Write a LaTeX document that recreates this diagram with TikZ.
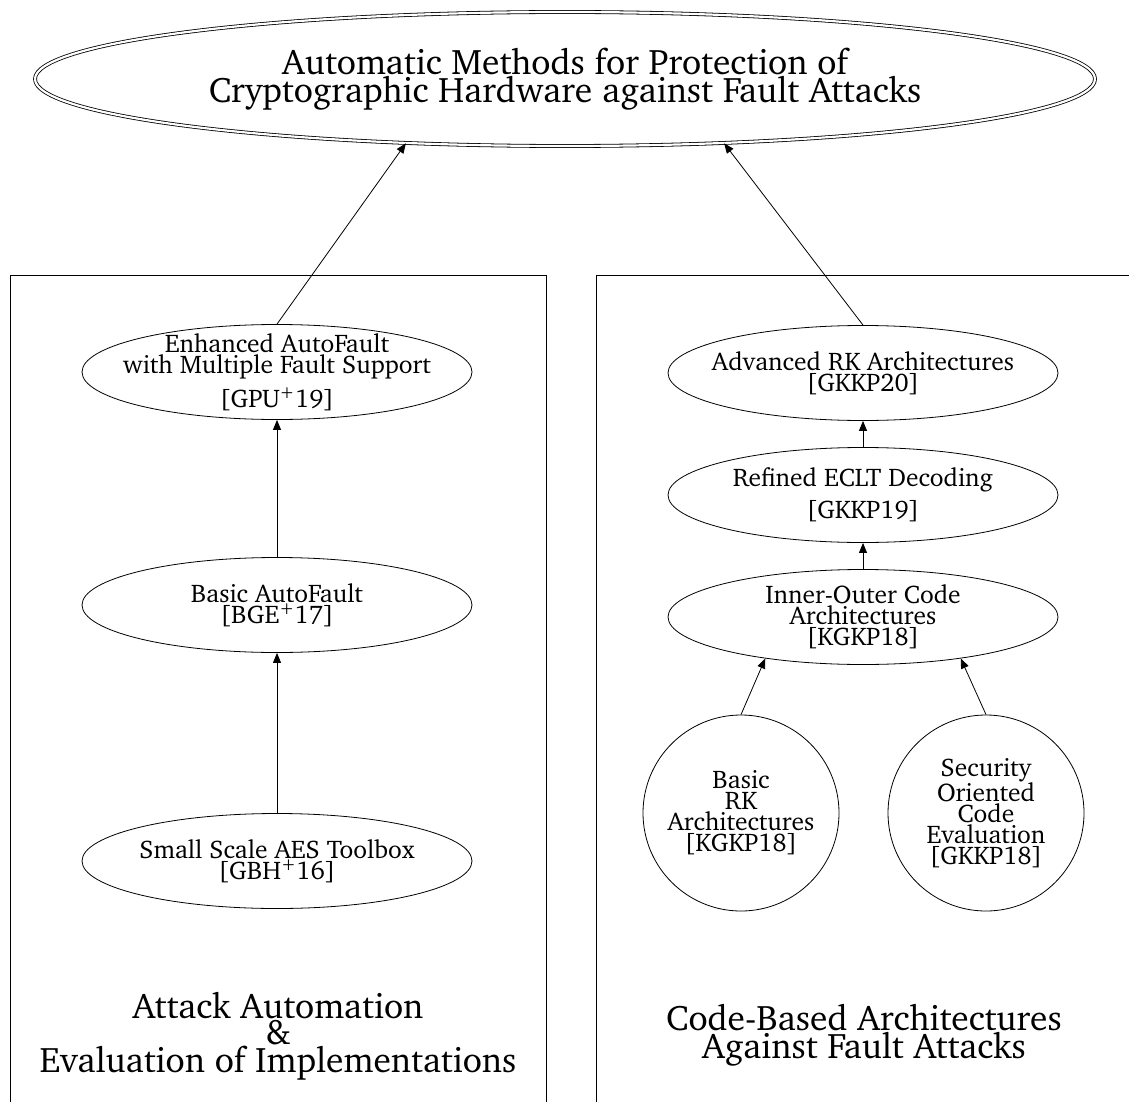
\documentclass[tikz,border=0pt]{standalone}
\usepackage[T1]{fontenc}
\usepackage{charter}
\usetikzlibrary{arrows.meta,shapes.geometric}
% bracketed citation key, safe right after a line break
\newcommand\refbr[1]{{[}#1{]}}
\tikzset{
  base line/.style={line width=0.8pt},
  topic/.style={ellipse, draw, base line, double, double distance=2.2pt,
    minimum width=1060pt, minimum height=134pt, inner sep=0pt, align=center,
    font=\fontsize{35.5}{28}\selectfont},
  % negative inner sep keeps every work ellipse at the common fixed size
  work/.style={ellipse, draw, base line, minimum width=390pt, minimum height=95pt,
    inner xsep=-16pt, inner ysep=-6pt, align=center, font=\fontsize{25.5}{21}\selectfont},
  workcircle/.style={circle, draw, base line, minimum size=196pt, inner sep=0pt,
    align=center, font=\fontsize{25.5}{21}\selectfont},
  cluster/.style={draw, base line},
  clusterlabel/.style={align=center, inner sep=0pt, font=\fontsize{35.5}{26.5}\selectfont},
  link/.style={base line, -{Triangle[length=10pt,width=8pt]}}
}
\begin{document}
\begin{tikzpicture}[x=1pt, y=-1pt]
  \useasboundingbox (0,0) rectangle (1129,1102);
  \clip (0,0) rectangle (1129,1102);

  % the two research areas
  \draw[cluster] (10,275) rectangle (546,1130);
  \draw[cluster] (596,275) rectangle (1150,1130);

  % overall topic
  \node[topic] (top) at (565,79)
    {Automatic Methods for Protection of\\Cryptographic Hardware against Fault Attacks};

  % attack automation chain
  \node[work] (enh) at (277,372)
    {Enhanced AutoFault\\with Multiple Fault Support\\[8pt]\refbr{GPU\textsuperscript{+}19}};
  \node[work] (basic) at (277,605) {Basic AutoFault\\\refbr{BGE\textsuperscript{+}17}};
  \node[work] (small) at (277,861) {Small Scale AES Toolbox\\\refbr{GBH\textsuperscript{+}16}};

  % code-based architecture chain
  \node[work] (adv) at (863,373) {Advanced RK Architectures\\\refbr{GKKP20}};
  \node[work] (ref) at (863,495) {Refined ECLT Decoding\\[8pt]\refbr{GKKP19}};
  \node[work] (inner) at (863,617) {Inner-Outer Code\\Architectures\\\refbr{KGKP18}};
  \node[workcircle] (brk) at (741,813) {Basic\\RK\\Architectures\\\refbr{KGKP18}};
  \node[workcircle] (sec) at (986,813) {Security\\Oriented\\Code\\Evaluation\\\refbr{GKKP18}};

  % area captions
  \node[clusterlabel] (lablA) at (278,1036)
    {Attack Automation\\\&\\Evaluation of Implementations};
  \node[clusterlabel] (lablB) at (864,1035)
    {Code-Based Architectures\\Against Fault Attacks};

  % dependencies
  \draw[link] (small) -- (basic);
  \draw[link] (basic) -- (enh);
  \draw[link] (enh.north) -- (top.202);
  \draw[link] (ref) -- (adv);
  \draw[link] (inner) -- (ref);
  \draw[link] (brk.north) -- (inner.203);
  \draw[link] (sec.north) -- (inner.337);
  \draw[link] (adv.north) -- (top.338);
\end{tikzpicture}
\end{document}
